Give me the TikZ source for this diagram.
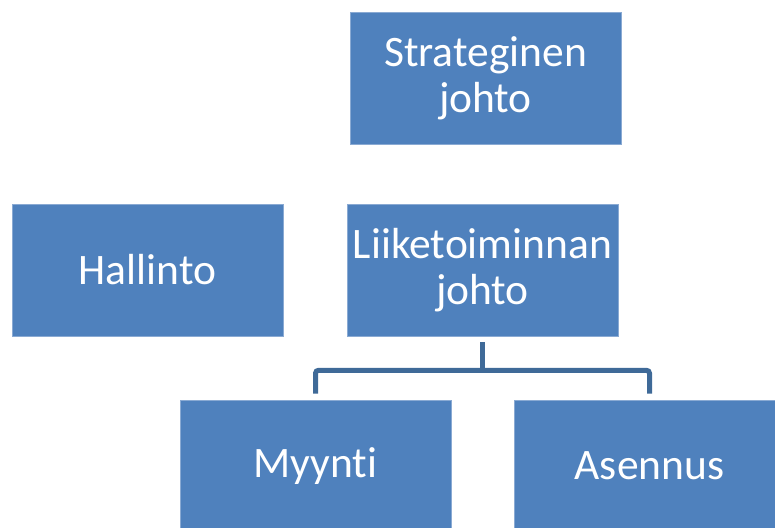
\documentclass[tikz,border=0pt]{standalone}
\usepackage{fontspec}
\setmainfont[RawFeature={-liga;-calt;-clig}]{Carlito}
\definecolor{boxblue}{HTML}{4F81BD}
\definecolor{boxedge}{HTML}{8AAAD3}
\definecolor{linkblue}{HTML}{3F6A98}
\tikzset{
  orgbox/.style={fill=boxblue, draw=boxedge, line width=0.6pt, text=white,
    minimum width=271pt, minimum height=132pt, inner sep=0pt,
    align=center, font=\fontsize{43.5}{46}\selectfont},
  link/.style={draw=linkblue, line width=5pt}
}
\begin{document}
\begin{tikzpicture}[x=1pt,y=-1pt]
\useasboundingbox (0,0) rectangle (775,527);

% boxes
\node[orgbox] (strat) at (485.5,78) {Strateginen\\johto};
\node[orgbox] (hallinto) at (147.5,270) {Hallinto};
\node[orgbox] (liike) at (482.5,270) {Liiketoiminnan\\johto};
\node[orgbox] (myynti) at (315.5,466) {Myynti};
\node[orgbox] (asennus) at (649.5,466) {Asennus};

% connectors
\draw[link] ([yshift=-6pt]liike.south) -- ++(0,28) coordinate (fork);
\draw[link, rounded corners=3pt] ([yshift=6pt]myynti.north) |- (fork) -| ([yshift=6pt]asennus.north);

\end{tikzpicture}
\end{document}
